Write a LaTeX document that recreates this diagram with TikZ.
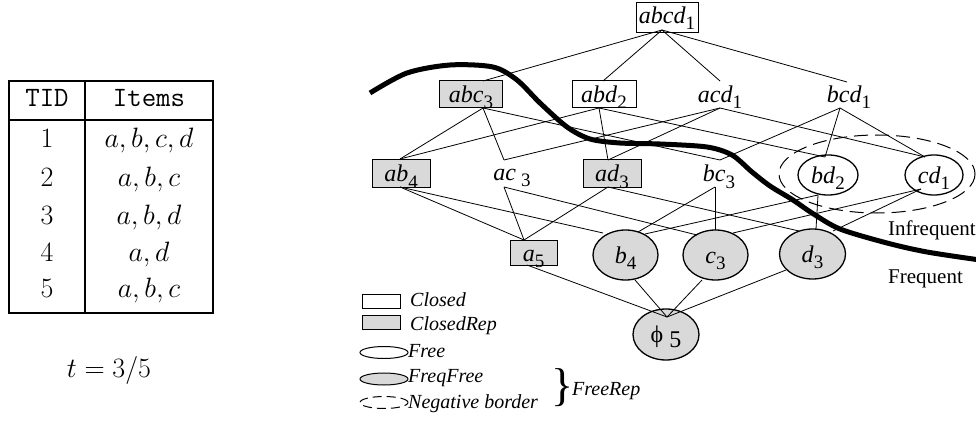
\RequirePackage{fix-cm}
\documentclass[tikz,border=0pt]{standalone}
\usepackage{fontspec}
\newfontfamily\tnr{Liberation Serif}
\usetikzlibrary{shapes.geometric}

% itemset label: italic items with a lowered support count
\newcommand{\latlbl}[2]{\textit{#1}\raisebox{-6pt}{\fontsize{19pt}{19pt}\selectfont #2}}

\begin{document}
\begin{tikzpicture}[x=1pt,y=-1pt,
  latfont/.style={font=\tnr\fontsize{24pt}{24pt}\selectfont},
  tabtxt/.style={font=\fontsize{28pt}{30pt}\selectfont, inner sep=0pt, anchor=base},
  setbox/.style={draw, line width=1pt, inner sep=0pt, latfont, text height=22pt, text depth=5pt, fill=white},
  repbox/.style={setbox, fill=gray!30},
  freeset/.style={ellipse, draw, line width=1.3pt, inner sep=0pt, latfont, text height=18pt, text depth=2pt, fill=white},
  freqfree/.style={freeset, fill=gray!30},
  plainset/.style={latfont, inner sep=0pt, anchor=base},
  edge/.style={line width=0.8pt},
  legtext/.style={font=\tnr\itshape\fontsize{20pt}{20pt}\selectfont, inner sep=0pt, anchor=base west},
  legbox/.style={draw, line width=1pt, inner sep=0pt, minimum width=38pt, minimum height=14pt},
  legell/.style={ellipse, draw, line width=1pt, inner sep=0pt, minimum width=48pt, minimum height=12pt},
  negdash/.style={dash pattern=on 14pt off 7pt},
]
\useasboundingbox (0,0) rectangle (976,422);

% ---------------- transaction table ----------------
\draw[line width=1.6pt] (9,81) rectangle (213,313);
\draw[line width=1.6pt] (85,81) -- (85,313);
\draw[line width=1.6pt] (9,120) -- (213,120);
\node[tabtxt] (tid) at (47,107) {\ttfamily TID};
\node[tabtxt] (items) at (149,107) {\ttfamily Items};
\node[tabtxt] (t1) at (47,148) {1};
\node[tabtxt] (i1) at (149,148) {$a,b,c,d$};
\node[tabtxt] (t2) at (47,186) {2};
\node[tabtxt] (i2) at (149,186) {$a,b,c$};
\node[tabtxt] (t3) at (47,224) {3};
\node[tabtxt] (i3) at (149,224) {$a,b,d$};
\node[tabtxt] (t4) at (47,261) {4};
\node[tabtxt] (i4) at (149,261) {$a,d$};
\node[tabtxt] (t5) at (47,297) {5};
\node[tabtxt] (i5) at (149,297) {$a,b,c$};
\node[tabtxt] (thr) at (109,377) {$t=3/5$};

% ---------------- itemset lattice ----------------
\node[setbox, text height=21pt, text depth=9pt, minimum width=62pt] (abcd) at (667,18) {\latlbl{abcd}{1}};

\node[repbox, minimum width=63pt] (abc) at (471,94.5) {\latlbl{abc}{3}};
\node[setbox, minimum width=64pt] (abd) at (604,94.5) {\latlbl{abd}{2}};
\node[plainset] (acd) at (720,103) {\latlbl{acd}{1}};
\node[plainset] (bcd) at (849,103) {\latlbl{bcd}{1}};

\node[repbox, minimum width=58pt] (ab) at (401,173.5) {\latlbl{ab}{4}};
\node[plainset] (ac) at (512,180) {\latlbl{ac}{\hspace{5pt}3}};
\node[repbox, minimum width=58pt] (ad) at (612,173.5) {\latlbl{ad}{3}};
\node[plainset] (bc) at (719,182) {\latlbl{bc}{3}};
\node[freeset, minimum width=60pt, minimum height=40pt] (bd) at (828,175) {\latlbl{bd}{2}};
\node[freeset, minimum width=58pt, minimum height=40pt] (cd) at (934,175) {\latlbl{cd}{1}};

\node[repbox, text height=21pt, text depth=4pt, minimum width=47pt] (a) at (533.5,252.5) {\latlbl{a}{5}};
\node[freqfree, minimum width=65pt, minimum height=50pt] (b) at (625.5,255) {\latlbl{b}{4}};
\node[freqfree, minimum width=65pt, minimum height=50pt] (c) at (715.5,255) {\latlbl{c}{3}};
\node[freqfree, minimum width=66pt, minimum height=50pt] (d) at (812.5,254) {\latlbl{d}{3}};

\node[freqfree, minimum width=66pt, minimum height=51pt] (phi) at (666,334.5) {\symbol{"03D5}\hspace{6pt}\raisebox{-5pt}{5}};

% attachment points of the cover edges
\coordinate (abcd-b) at (662,30);
\coordinate (abc-t) at (483,81);  \coordinate (abc-b) at (483,108);
\coordinate (abd-t) at (603,81);  \coordinate (abd-b) at (599,108);
\coordinate (acd-t) at (720,81);  \coordinate (acd-b) at (720,108);
\coordinate (bcd-t) at (847,82);  \coordinate (bcd-b) at (840,108);
\coordinate (ab-t) at (400,159);  \coordinate (ab-b) at (400,187);
\coordinate (ac-t) at (504,160);  \coordinate (ac-b) at (504,187);
\coordinate (ad-t) at (608,160);  \coordinate (ad-b) at (608,187);
\coordinate (bc-t) at (720,160);  \coordinate (bc-b) at (715,187);
\coordinate (bd-t) at (825,157);  \coordinate (bd-b) at (818,195);
\coordinate (cd-t) at (925,157);  \coordinate (cd-b) at (921,189);
\coordinate (a-t) at (524,240);   \coordinate (a-b) at (527,265);
\coordinate (b-ab) at (603,233);  \coordinate (b-bc) at (638,232);
\coordinate (b-bd) at (645,234);  \coordinate (b-b) at (635,280);
\coordinate (c-ac) at (697,235);  \coordinate (c-bc) at (715,230);
\coordinate (c-cd) at (733,233);  \coordinate (c-b) at (702,280);
\coordinate (d-ad) at (799,231);  \coordinate (d-bd) at (816,229);
\coordinate (d-cd) at (833,231);  \coordinate (d-b) at (786,270);
\coordinate (phi-t) at (667,317);

% size 4 -> size 3
\draw[edge] (abcd-b) -- (abc-t);
\draw[edge] (abcd-b) -- (abd-t);
\draw[edge] (abcd-b) -- (acd-t);
\draw[edge] (abcd-b) -- (bcd-t);
% size 3 -> size 2
\draw[edge] (abc-b) -- (ab-t);
\draw[edge] (abc-b) -- (ac-t);
\draw[edge] (abc-b) -- (bc-t);
\draw[edge] (abd-b) -- (ab-t);
\draw[edge] (abd-b) -- (ad-t);
\draw[edge] (abd-b) -- (bd-t);
\draw[edge] (acd-b) -- (ac-t);
\draw[edge] (acd-b) -- (ad-t);
\draw[edge] (acd-b) -- (cd-t);
\draw[edge] (bcd-b) -- (bc-t);
\draw[edge] (bcd-b) -- (bd-t);
\draw[edge] (bcd-b) -- (cd-t);
% size 2 -> size 1
\draw[edge] (ab-b) -- (a-t);
\draw[edge] (ab-b) -- (b-ab);
\draw[edge] (ac-b) -- (a-t);
\draw[edge] (ac-b) -- (c-ac);
\draw[edge] (ad-b) -- (a-t);
\draw[edge] (ad-b) -- (d-ad);
\draw[edge] (bc-b) -- (b-bc);
\draw[edge] (bc-b) -- (c-bc);
\draw[edge] (bd-b) -- (b-bd);
\draw[edge] (bd-b) -- (d-bd);
\draw[edge] (cd-b) -- (c-cd);
\draw[edge] (cd-b) -- (d-cd);
% size 1 -> empty set
\draw[edge] (a-b) -- (phi-t);
\draw[edge] (b-b) -- (phi-t);
\draw[edge] (c-b) -- (phi-t);
\draw[edge] (d-b) -- (phi-t);

% negative border
\draw[line width=1pt, negdash] (877,174) ellipse [x radius=98, y radius=39];

% frequent / infrequent frontier
\draw[line width=5pt] plot[smooth, tension=0.5] coordinates {
  (370,93) (407,73) (450,65) (493,67) (517,80) (540,103) (567,127)
  (590,139) (620,143) (660,144) (707,147) (732,155) (752,172)
  (770,186) (793,200) (812,213) (840,229) (887,243) (927,252) (980,260)};
\node[font=\tnr\fontsize{21pt}{21pt}\selectfont, inner sep=0pt, anchor=base west] (infreq) at (888,235) {Infrequent};
\node[font=\tnr\fontsize{21pt}{21pt}\selectfont, inner sep=0pt, anchor=base west] (freq) at (888,283) {Frequent};

% ---------------- legend ----------------
\node[legbox] (lgclosed) at (381,301.5) {};
\node[legtext] (txclosed) at (410,306) {Closed};
\node[legbox, fill=gray!30] (lgrep) at (381,322.5) {};
\node[legtext] (txrep) at (410,330) {ClosedRep};
\node[legell] (lgfree) at (384,352.5) {};
\node[legtext] (txfree) at (408,357) {Free};
\node[legell, fill=gray!30] (lgff) at (384,379) {};
\node[legtext] (txff) at (408,382) {FreqFree};
\node[legell, dash pattern=on 9pt off 5pt] (lgneg) at (384,402.5) {};
\node[legtext] (txneg) at (408,408) {Negative border};
\node[inner sep=0pt, anchor=base, font=\tnr\fontsize{46pt}{46pt}\selectfont] (brace) at (563,400) {\}};
\node[legtext] (txfreerep) at (572,395) {FreeRep};
\end{tikzpicture}
\end{document}
